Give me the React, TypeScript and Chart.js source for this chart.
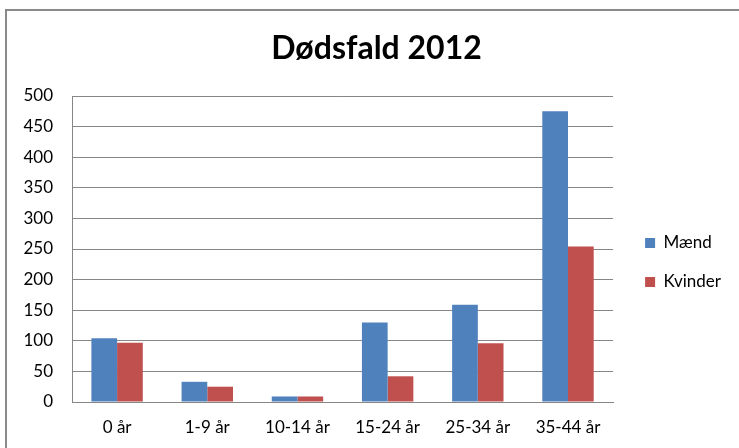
import React, { useEffect, useRef } from "react";
import { Chart, registerables } from "chart.js";

Chart.register(...registerables);

const chartTitle = "Dødsfald 2012";
const categories = ["0 år", "1-9 år", "10-14 år", "15-24 år", "25-34 år", "35-44 år"];
const seriesNames = ["Mænd", "Kvinder"];
const maendValues = [104, 33, 9, 130, 159, 475];
const kvinderValues = [97, 25, 9, 42, 96, 254];
const yMin = 0;
const yMax = 500;
const yStep = 50;

const FONT = "Lato";
const GRID = "#868686";

export default function App() {
  const ref = useRef<HTMLCanvasElement>(null);

  useEffect(() => {
    if (!ref.current) return;
    const tickFont = { family: FONT, size: 17 };
    const chart = new Chart(ref.current, {
      type: "bar",
      data: {
        labels: categories,
        datasets: [
          {
            label: seriesNames[0],
            data: maendValues,
            backgroundColor: "#4F81BD",
            borderWidth: 0,
            categoryPercentage: 0.57,
            barPercentage: 1,
          },
          {
            label: seriesNames[1],
            data: kvinderValues,
            backgroundColor: "#C0504D",
            borderWidth: 0,
            categoryPercentage: 0.57,
            barPercentage: 1,
          },
        ],
      },
      options: {
        animation: false,
        responsive: false,
        events: [],
        layout: { padding: { left: 22, right: 8, top: 0, bottom: 0 } },
        plugins: {
          title: {
            display: true,
            text: chartTitle,
            color: "#000",
            font: { family: FONT, size: 32, weight: "bold", lineHeight: 1.2 },
            padding: { top: 29, bottom: 28.6 },
          },
          legend: {
            position: "right",
            fullSize: false,
            labels: {
              font: { family: FONT, size: 17 },
              color: "#000",
              boxWidth: 10,
              boxHeight: 10,
              padding: 22,
            },
            title: {
              display: true,
              text: " ",
              font: { size: 10, lineHeight: 1 },
              padding: { top: 17, bottom: 0 },
            },
          },
          tooltip: { enabled: false },
        },
        scales: {
          x: {
            grid: { display: false, drawTicks: false },
            border: { display: true, color: GRID },
            ticks: { font: tickFont, color: "#000", padding: 15 },
            afterFit: (s: any) => {
              s.height = 46;
            },
          },
          y: {
            min: yMin,
            max: yMax,
            ticks: { stepSize: yStep, padding: 19, font: tickFont, color: "#000" },
            grid: { color: GRID, drawTicks: false },
            border: { color: GRID },
            afterFit: (s: any) => {
              s.width = 50;
            },
          },
          gap: {
            type: "linear",
            position: "right",
            display: true,
            grid: { display: false, drawTicks: false },
            border: { display: false },
            ticks: { display: false },
            afterFit: (s: any) => {
              s.width = 10;
            },
          },
        },
      } as any,
    });
    return () => chart.destroy();
  }, []);

  return (
    <div
      style={{
        position: "fixed",
        left: 0,
        top: 0,
        width: 739,
        height: 448,
        overflow: "hidden",
        background: "#fff",
      }}
    >
      <div
        style={{
          position: "absolute",
          left: 5,
          top: 9,
          width: 800,
          height: 500,
          border: "2px solid #8a8a8a",
          boxSizing: "border-box",
        }}
      />
      <canvas
        ref={ref}
        width={739}
        height={448}
        style={{ position: "absolute", left: 0, top: 0, width: 739, height: 448 }}
      />
    </div>
  );
}
